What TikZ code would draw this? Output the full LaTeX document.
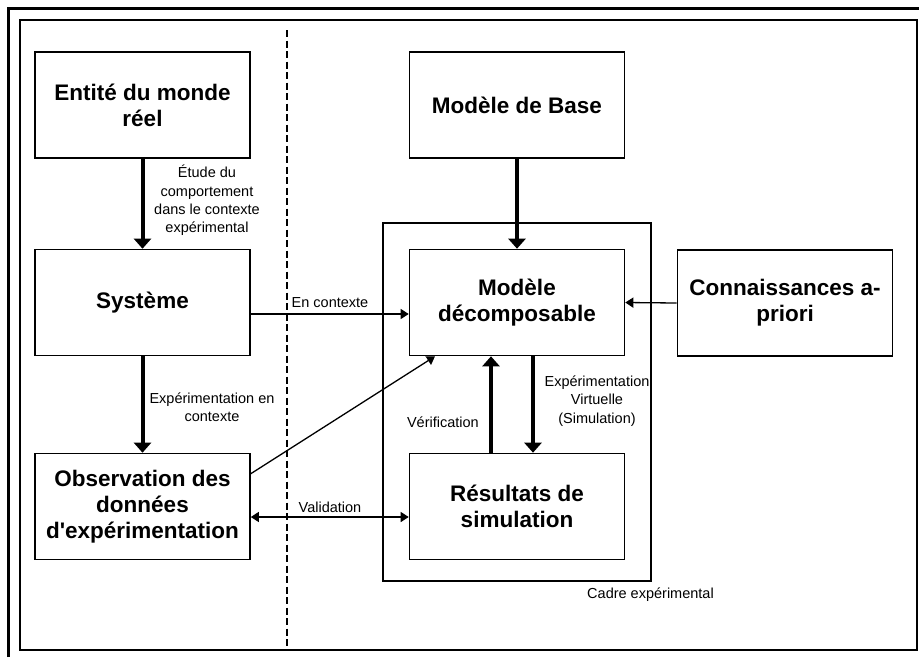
\documentclass[tikz,border=0pt]{standalone}
\usepackage{fontspec}
\setmainfont{Liberation Sans}
\usetikzlibrary{arrows.meta,calc}

\tikzset{
  block/.style={draw, line width=1.6pt, minimum width=215pt, minimum height=106pt,
    align=center, inner sep=2pt,
    font=\fontsize{22.5}{26}\selectfont\bfseries},
  note/.style={align=center, inner sep=0pt,
    font=\fontsize{14.5}{18.3}\selectfont},
  heavy/.style={line width=4pt, -{Triangle[length=10pt,width=17pt]}},
  light/.style={line width=1.3pt, -{Triangle[length=8pt,width=10pt]}},
  lightboth/.style={line width=1.3pt, {Triangle[length=8pt,width=10pt]}-{Triangle[length=8pt,width=10pt]}},
}

\begin{document}
\begin{tikzpicture}[x=1pt, y=-1pt]
\useasboundingbox (0,0) rectangle (919,657);

% frames
\draw[line width=3pt] (8,657) -- (8,8) -- (919,8);
\draw[line width=1.5pt] (20,20) rectangle (917,650);
\draw[line width=2pt, dash pattern=on 7pt off 3.5pt] (287,30) -- (287,646);

% experimental frame
\draw[line width=1.5pt] (383,223) rectangle (651,581);
\node[note] (cadrelbl) at (650.5,595) {Cadre expérimental};

% blocks
\node[block] (ent)  at (142.5,105)   {Entité du monde\\réel};
\node[block] (sys)  at (142.5,302.5) {Système};
\node[block] (obs)  at (142.5,506.5) {Observation des\\données\\d\textquotesingle expérimentation};
\node[block] (base) at (517,105)     {Modèle de Base};
\node[block] (mdec) at (517,302.5)   {Modèle\\décomposable};
\node[block] (res)  at (517,506.5)   {Résultats de\\simulation};
\node[block] (conn) at (785,303)     {Connaissances a-\\priori};

% heavy vertical links
\draw[heavy] (ent.south) -- (sys.north);
\draw[heavy] (sys.south) -- (obs.north);
\draw[heavy] (base.south) -- (mdec.north);
\draw[heavy] ($(mdec.south)+(16,0)$) -- ($(res.north)+(16,0)$);
\draw[heavy] ($(res.north)+(-26,0)$) -- ($(mdec.south)+(-26,0)$);

% light links
\draw[light] ($(sys.east)+(0,11.5)$) -- ($(mdec.west)+(0,11.5)$);
\draw[light] (conn.west) -- (mdec.east);
\draw[light] ($(obs.north east)+(0,21)$) -- ($(mdec.south)+(-82,0)$);
\draw[lightboth] ($(obs.east)+(0,10.5)$) -- ($(res.west)+(0,10.5)$);

% link labels
\node[note] (l1) at (207,200.5) {Étude du\\comportement\\dans le contexte\\expérimental};
\node[note] (l2) at (212,407) {Expérimentation en\\contexte};
\node[note] (l3) at (330,303) {En contexte};
\node[note] (l4) at (330,507) {Validation};
\node[note, anchor=east] (l5) at (479,422) {Vérification};
\node[note] (l6) at (597,401) {Expérimentation\\Virtuelle\\(Simulation)};
\end{tikzpicture}
\end{document}
